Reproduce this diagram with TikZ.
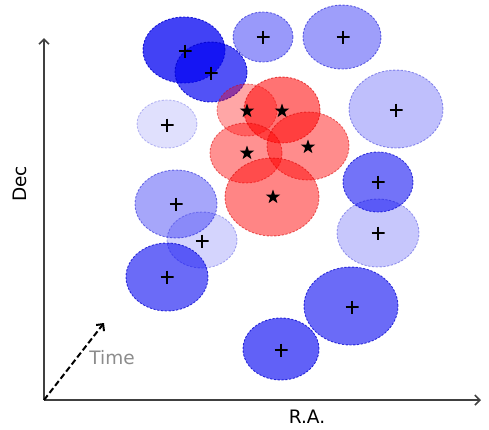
\documentclass[tikz,border=0pt]{standalone}
\usepackage{fontspec}
\newfontfamily\lab{DejaVu Sans}
\usetikzlibrary{shapes.geometric,arrows.meta}
\begin{document}
\begin{tikzpicture}[x=1pt,y=-1pt,
  blob/.style={ellipse, inner sep=0pt, dash pattern=on 2.2pt off 1.6pt, line width=0.9pt},
  bl/.style 2 args={blob, fill=blue!95!black, draw=blue!80!black, fill opacity=#1, draw opacity=#2},
  rd/.style 2 args={blob, fill=red, draw=red!85!black, fill opacity=#1, draw opacity=#2},
  plusm/.style={minimum size=13pt, inner sep=0pt, path picture={
     \draw[line width=2pt] (path picture bounding box.north) -- (path picture bounding box.south)
       (path picture bounding box.west) -- (path picture bounding box.east);}},
  starm/.style={star, star points=5, star point ratio=2.5, fill=black, inner sep=0pt, minimum size=15pt},
  axis/.style={line width=1.6pt, draw=black!75, -{Straight Barb[length=5pt,width=10pt]}},
  txt/.style={font=\lab\fontsize{18.5}{20}\selectfont, inner sep=0pt}
]
\useasboundingbox (0,0) rectangle (489,429);

% blue ellipses
\node[bl={0.74}{0.85}, minimum width=82pt, minimum height=66pt] (e1) at (184,50) {};
\node[bl={0.68}{0.85}, minimum width=72pt, minimum height=60pt] (e2) at (211,72) {};
\node[bl={0.40}{0.55}, minimum width=60pt, minimum height=50pt] (e3) at (263,37) {};
\node[bl={0.38}{0.55}, minimum width=78pt, minimum height=64pt] (e4) at (342,37) {};
\node[bl={0.25}{0.40}, minimum width=94pt, minimum height=78pt] (e5) at (396,109) {};
\node[bl={0.55}{0.70}, minimum width=70pt, minimum height=60pt] (e6) at (378,182) {};
\node[bl={0.22}{0.35}, minimum width=82pt, minimum height=68pt] (e7) at (378,233) {};
\node[bl={0.12}{0.25}, minimum width=60pt, minimum height=48pt] (e8) at (167,124) {};
\node[bl={0.35}{0.50}, minimum width=82pt, minimum height=68pt] (e9) at (176,204) {};
\node[bl={0.17}{0.30}, minimum width=70pt, minimum height=56pt] (e10) at (202,240) {};
\node[bl={0.58}{0.75}, minimum width=82pt, minimum height=68pt] (e11) at (167,277) {};
\node[bl={0.58}{0.75}, minimum width=94pt, minimum height=78pt] (e12) at (351,306) {};
\node[bl={0.62}{0.78}, minimum width=76pt, minimum height=62pt] (e13) at (281,349) {};

% red ellipses
\node[rd={0.35}{0.45}, minimum width=60pt, minimum height=52pt] (r1) at (247,110) {};
\node[rd={0.55}{0.65}, minimum width=76pt, minimum height=66pt] (r2) at (282,110) {};
\node[rd={0.43}{0.55}, minimum width=72pt, minimum height=60pt] (r3) at (246,153) {};
\node[rd={0.45}{0.55}, minimum width=82pt, minimum height=68pt] (r4) at (308,146) {};
\node[rd={0.48}{0.58}, minimum width=94pt, minimum height=78pt] (r5) at (272,197) {};

% plus marks
\node[plusm] (p1) at (185,51) {};
\node[plusm] (p2) at (211,73) {};
\node[plusm] (p3) at (263,37) {};
\node[plusm] (p4) at (343,37) {};
\node[plusm] (p5) at (396,110) {};
\node[plusm] (p6) at (378,182) {};
\node[plusm] (p7) at (378,233) {};
\node[plusm] (p8) at (167,125) {};
\node[plusm] (p9) at (176,204) {};
\node[plusm] (p10) at (202,241) {};
\node[plusm] (p11) at (167,277) {};
\node[plusm] (p12) at (352,307) {};
\node[plusm] (p13) at (281,350) {};

% stars
\node[starm] (s1) at (247,111) {};
\node[starm] (s2) at (282,111) {};
\node[starm] (s3) at (247,153) {};
\node[starm] (s4) at (308,147) {};
\node[starm] (s5) at (273,197) {};

% axes
\coordinate (o) at (44,400);
\coordinate (xe) at (481,400);
\coordinate (ye) at (44,38);
\coordinate (te) at (104,323);
\draw[axis] (o) -- (xe);
\draw[axis] (o) -- (ye);
\draw[line width=2pt, dash pattern=on 6pt off 3pt, -{Straight Barb[length=5pt,width=10pt]}] (o) -- (te);

% labels
\node[txt, rotate=90, text=black] (dec) at (20,184) {Dec};
\node[txt, text=black] (ra) at (307,417) {R.A.};
\node[txt, text=black!45] (time) at (112,358) {Time};
\end{tikzpicture}
\end{document}
